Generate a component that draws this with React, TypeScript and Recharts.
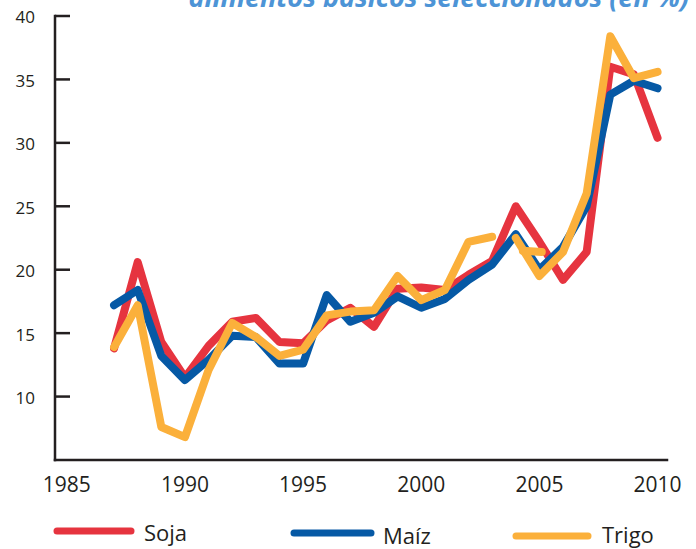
import { LineChart, Line, XAxis, YAxis } from "recharts"

// Precios: variación interanual (en %)
const years = [1987, 1988, 1989, 1990, 1991, 1992, 1993, 1994, 1995, 1996, 1997, 1998, 1999, 2000, 2001, 2002, 2003, 2004, 2005, 2006, 2007, 2008, 2009, 2010]
const soja = [13.8, 20.6, 14.3, 11.5, 14.0, 15.9, 16.2, 14.3, 14.2, 16.0, 17.0, 15.5, 18.5, 18.6, 18.4, 19.6, 20.7, 25.0, 22.2, 19.2, 21.4, 36.0, 35.4, 30.4]
const maiz = [17.2, 18.4, 13.2, 11.3, 12.9, 14.8, 14.7, 12.6, 12.6, 18.0, 15.9, 16.6, 17.9, 17.0, 17.7, 19.2, 20.4, 22.8, 20.0, 21.8, 25.0, 33.8, 34.9, 34.3]
// trigo has a break between 2003 and 2004, plus a short extra stroke around 2004-2005
const trigoHasta2003 = [13.9, 17.2, 7.6, 6.8, 12.1, 15.8, 14.7, 13.2, 13.7, 16.4, 16.7, 16.8, 19.5, 17.6, 18.4, 22.2, 22.6]
const trigoDesde2004 = [22.5, 19.5, 21.4, 26.0, 38.4, 35.1, 35.6]
const trigoTrazoYears = [2004.3, 2005.1]
const trigoTrazo = [21.5, 21.4]

const xTicks = [1985, 1990, 1995, 2000, 2005, 2010]
const yTicks = [10, 15, 20, 25, 30, 35, 40]

const INK = "#231f20"
const RED = "#e6343f"
const BLUE = "#0659a5"
const ORANGE = "#fbb03b"

type Row = { year: number; soja?: number | null; maiz?: number | null; trigoA?: number | null; trigoB?: number | null; trigoC?: number | null }

const rows: Row[] = years.map((year, i) => ({
  year,
  soja: soja[i],
  maiz: maiz[i],
  trigoA: i < trigoHasta2003.length ? trigoHasta2003[i] : null,
  trigoB: i >= trigoHasta2003.length ? trigoDesde2004[i - trigoHasta2003.length] : null,
}))
trigoTrazoYears.forEach((year, i) => rows.push({ year, trigoC: trigoTrazo[i] }))
rows.sort((a, b) => a.year - b.year)

const legendItems = [
  { name: "Soja", color: RED, x1: 57, x2: 131, y: 531, tx: 144, ty: 541 },
  { name: "Maíz", color: BLUE, x1: 294, x2: 371, y: 533, tx: 383, ty: 544 },
  { name: "Trigo", color: ORANGE, x1: 516, x2: 588, y: 536, tx: 602, ty: 543 },
]

function YTick(props: any) {
  const { x, y, payload } = props
  return (
    <g>
      <line x1={x + 20} x2={x + 35} y1={y} y2={y} stroke={INK} strokeWidth={2.5} />
      <text x={x} y={y} dy="0.44em" textAnchor="end" fill={INK} fontSize={17} fontFamily="Open Sans">
        {payload.value}
      </text>
    </g>
  )
}

export default function App() {
  const lineProps = {
    type: "linear" as const,
    dot: false,
    activeDot: false,
    strokeWidth: 8,
    strokeLinecap: "round" as const,
    strokeLinejoin: "round" as const,
    connectNulls: true,
    isAnimationActive: false,
  }
  return (
    <div style={{ position: "relative", width: 696, height: 549, background: "#fff" }}>
      <style>{"body{margin:0}"}</style>
      <LineChart width={696} height={549} data={rows} margin={{ top: 16, right: 29, left: 0, bottom: 0 }}>
        <XAxis
          type="number"
          dataKey="year"
          domain={[1984.5, 2010.4]}
          ticks={xTicks}
          allowDataOverflow
          height={89}
          tickLine={false}
          tickSize={0}
          tickMargin={17}
          axisLine={{ stroke: INK, strokeWidth: 2.5, strokeLinecap: "square" }}
          tick={{ fill: INK, fontSize: 21, fontFamily: "Open Sans" }}
        />
        <YAxis
          domain={[5, 40]}
          ticks={yTicks}
          width={55}
          tickLine={false}
          tickSize={0}
          tickMargin={20}
          axisLine={{ stroke: INK, strokeWidth: 2.5, strokeLinecap: "square" }}
          tick={<YTick />}
        />
        <Line {...lineProps} dataKey="soja" name="Soja" stroke={RED} />
        <Line {...lineProps} dataKey="maiz" name="Maíz" stroke={BLUE} />
        <Line {...lineProps} dataKey="trigoA" name="Trigo" stroke={ORANGE} />
        <Line {...lineProps} dataKey="trigoB" name="Trigo" stroke={ORANGE} />
        <Line {...lineProps} dataKey="trigoC" name="Trigo" stroke={ORANGE} />
      </LineChart>
      <svg width={696} height={549} style={{ position: "absolute", left: 0, top: 0, pointerEvents: "none" }}>
        <text x={689} y={7} textAnchor="end" fill="#4d94d6" fontSize={27} fontWeight={700} fontStyle="italic" fontFamily="Open Sans">
          alimentos básicos seleccionados (en %)
        </text>
        {legendItems.map((it) => (
          <g key={it.name}>
            <line x1={it.x1} x2={it.x2} y1={it.y} y2={it.y} stroke={it.color} strokeWidth={7} strokeLinecap="round" />
            <text x={it.tx} y={it.ty} fill={INK} fontSize={22} fontFamily="Open Sans">
              {it.name}
            </text>
          </g>
        ))}
      </svg>
    </div>
  )
}
